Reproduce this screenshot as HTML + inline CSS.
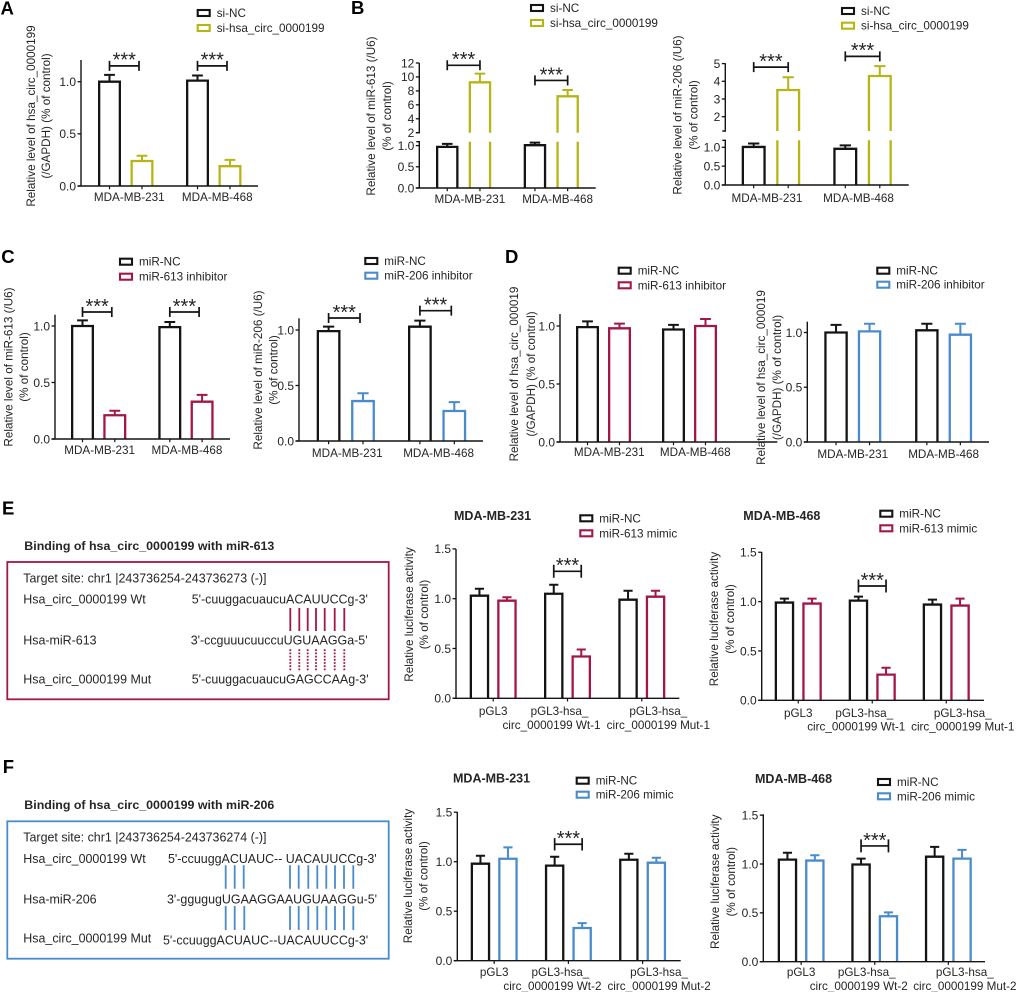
<!DOCTYPE html>
<html lang="en">
<head>
<meta charset="utf-8">
<title>Relative expression and luciferase panels</title>
<style>
html,body{margin:0;padding:0;background:#fff;}
svg{display:block;font-family:"Liberation Sans",Arial,sans-serif;}
text{fill:#252525;}
</style>
</head>
<body>
<svg id="figure" width="1020" height="992" viewBox="0 0 1020 992" xmlns="http://www.w3.org/2000/svg">
  <rect x="0" y="0" width="1020" height="992" fill="#ffffff"/>

  <g font-size="12.45">
    <text x="24.3" y="550" font-size="12.4" font-weight="bold">Binding of hsa_circ_0000199 with miR-613</text>
    <rect x="7.3" y="562" width="381.4" height="137.3" fill="none" stroke="#a3164a" stroke-width="1.8"/>
    <text x="23.3" y="582.4">Target site: chr1 |243736254-243736273 (-)]</text>
    <text x="23.3" y="603.7">Hsa_circ_0000199 Wt</text>
    <text x="191.7" y="603.7">5'-cuuggacuaucuACAUUCCg-3'</text>
    <text x="23.3" y="644.7">Hsa-miR-613</text>
    <text x="190.7" y="644.7">3'-ccguuucuuccuUGUAAGGa-5'</text>
    <text x="23.3" y="683.7">Hsa_circ_0000199 Mut</text>
    <text x="191.7" y="683.7">5'-cuuggacuaucuGAGCCAAg-3'</text>
    <path d="M290.3 608V631M299.3 608V631M307.7 608V631M316 608V631M324.7 608V631M334.7 608V631M344.3 608V631" stroke="#a3164a" stroke-width="1.8" fill="none"/>
    <path d="M290.3 649.3V671.7M299.3 649.3V671.7M307.7 649.3V671.7M316 649.3V671.7M324.7 649.3V671.7M334.7 649.3V671.7M344.3 649.3V671.7" stroke="#a3164a" stroke-width="1.8" stroke-dasharray="1.8 1.4" fill="none"/>
  </g>

  <g font-size="12.45">
    <text x="24.3" y="809" font-size="12.4" font-weight="bold">Binding of hsa_circ_0000199 with miR-206</text>
    <rect x="7.3" y="821.3" width="381.4" height="137.4" fill="none" stroke="#4a8bcb" stroke-width="1.8"/>
    <text x="23.3" y="841.7">Target site: chr1 |243736254-243736274 (-)]</text>
    <text x="23.3" y="863.1">Hsa_circ_0000199 Wt</text>
    <text x="168" y="863.1">5'-ccuuggACUAUC-- UACAUUCCg-3'</text>
    <text x="23.3" y="903.4">Hsa-miR-206</text>
    <text x="167" y="903.4">3'-ggugugUGAAGGAAUGUAAGGu-5'</text>
    <text x="23.3" y="942.7">Hsa_circ_0000199 Mut</text>
    <text x="163" y="944.4">5'-ccuuggACUAUC--UACAUUCCg-3'</text>
    <path d="M225.7 865.3V888.7M234.7 865.3V888.7M243.7 865.3V888.7M290 865.3V888.7M298.7 865.3V888.7M308.3 865.3V888.7M317.3 865.3V888.7M326.3 865.3V888.7M335 865.3V888.7M344 865.3V888.7M353.3 865.3V888.7" stroke="#4a8bcb" stroke-width="1.8" fill="none"/>
    <path d="M225.7 906V930M234.7 906V930M244.3 906V930M290 906V930M298.7 906V930M308.3 906V930M317.3 906V930M326.3 906V930M335 906V930M344 906V930M353.3 906V930" stroke="#4a8bcb" stroke-width="1.8" fill="none"/>
  </g>
</svg>

<script>
/* ---------- shared labels ---------- */
const cellLineCategories = ['MDA-MB-231', 'MDA-MB-468'];
const luciferaseCategories1 = [['pGL3'], ['pGL3-hsa_', 'circ_0000199 Wt-1'], ['pGL3-hsa_', 'circ_0000199 Mut-1']];
const luciferaseCategories2 = [['pGL3'], ['pGL3-hsa_', 'circ_0000199 Wt-2'], ['pGL3-hsa_', 'circ_0000199 Mut-2']];
const unitTicks = [0, 0.5, 1];
const unitTickLabels = ['0.0', '0.5', '1.0'];
const luciferaseTicks = [0, 0.5, 1, 1.5];
const luciferaseTickLabels = ['0.0', '0.5', '1.0', '1.5'];

/* ---------- panel A ---------- */
const aControl = [1.0, 1.01];
const aControlErr = [0.065, 0.05];
const aTreated = [0.24, 0.19];
const aTreatedErr = [0.05, 0.06];
const aSigLevels = [1.152, 1.152];

/* ---------- panel B, miR-613 ---------- */
const b1Control = [0.97, 1.01];
const b1ControlErr = [0.07, 0.06];
const b1Treated = [9.23, 7.22];
const b1TreatedErr = [1.24, 0.91];
const b1SigLevels = [11.67, 9.5];
const b1UpperTicks = [2, 4, 6, 8, 10, 12];
const b1UpperLabels = ['2', '4', '6', '8', '10', '12'];

/* ---------- panel B, miR-206 ---------- */
const b2Control = [1.01, 0.96];
const b2ControlErr = [0.09, 0.09];
const b2Treated = [3.51, 4.3];
const b2TreatedErr = [0.72, 0.56];
const b2SigLevels = [4.8, 5.41];
const b2UpperTicks = [2, 3, 4, 5];
const b2UpperLabels = ['2', '3', '4', '5'];

/* ---------- panel C, miR-613 ---------- */
const c1Control = [1.0, 0.99];
const c1ControlErr = [0.05, 0.045];
const c1Treated = [0.21, 0.33];
const c1TreatedErr = [0.04, 0.06];
const c1SigLevels = [1.124, 1.124];

/* ---------- panel C, miR-206 ---------- */
const c2Control = [0.99, 1.03];
const c2ControlErr = [0.04, 0.055];
const c2Treated = [0.36, 0.27];
const c2TreatedErr = [0.07, 0.08];
const c2SigLevels = [1.108, 1.174];

/* ---------- panel D, miR-613 ---------- */
const d1Control = [0.99, 0.97];
const d1ControlErr = [0.05, 0.04];
const d1Treated = [0.98, 1.0];
const d1TreatedErr = [0.04, 0.06];

/* ---------- panel D, miR-206 ---------- */
const d2Control = [1.0, 1.02];
const d2ControlErr = [0.07, 0.06];
const d2Treated = [1.01, 0.98];
const d2TreatedErr = [0.07, 0.1];

/* ---------- panel E, MDA-MB-231 ---------- */
const e1Control = [1.03, 1.05, 0.99];
const e1ControlErr = [0.07, 0.09, 0.09];
const e1Treated = [0.98, 0.42, 1.02];
const e1TreatedErr = [0.035, 0.07, 0.06];
const e1SigLevels = [null, 1.275, null];

/* ---------- panel E, MDA-MB-468 ---------- */
const e2Control = [0.99, 1.01, 0.97];
const e2ControlErr = [0.04, 0.04, 0.05];
const e2Treated = [0.98, 0.26, 0.96];
const e2TreatedErr = [0.05, 0.07, 0.07];
const e2SigLevels = [null, 1.158, null];

/* ---------- panel F, MDA-MB-231 ---------- */
const f1Control = [0.98, 0.96, 1.02];
const f1ControlErr = [0.08, 0.09, 0.06];
const f1Treated = [1.03, 0.33, 0.99];
const f1TreatedErr = [0.115, 0.05, 0.05];
const f1SigLevels = [null, 1.176, null];

/* ---------- panel F, MDA-MB-468 ---------- */
const f2Control = [1.045, 0.995, 1.075];
const f2ControlErr = [0.07, 0.06, 0.1];
const f2Treated = [1.035, 0.465, 1.055];
const f2TreatedErr = [0.055, 0.04, 0.09];
const f2SigLevels = [null, 1.185, null];

/* ---------- colours ---------- */
const INK = '#141414';
const GOLD = '#b5b616';
const CRIMSON = '#a3164a';
const BLUE = '#4a8bcb';
const NS = 'http://www.w3.org/2000/svg';
const figure = document.getElementById('figure');

function make(parent, tag, props, content) {
  const el = document.createElementNS(NS, tag);
  for (const k in props) el.setAttribute(k, props[k]);
  if (content !== undefined) el.textContent = content;
  parent.appendChild(el);
  return el;
}

/* Linear value axis, optionally split in two segments */
function yScale(p, v) {
  if (p.upper && v > p.lowerMax) {
    return p.upper.refPx - (v - p.upper.refVal) * p.upper.pxPerUnit;
  }
  return p.base - v * p.pxPerUnit;
}
function xBar(p, group, series) {
  return p.barStart + group * p.groupStep + series * p.seriesStep;
}
function xBarCenter(p, group, series) {
  return xBar(p, group, series) + p.barWidth / 2;
}
function xGroupCenter(p, group) {
  return (xBar(p, group, 0) + xBar(p, group, 1) + p.barWidth) / 2;
}
/* Two-line luciferase labels sit off their tick in the original layout */
function luciferaseLabelShift(group, line) {
  if (group === 1) return line === 0 ? -8 : -16;
  if (group === 2) return 16.5;
  return 0;
}

function drawBar(g, p, group, series, value, err, color) {
  const sw = 2.3;
  const left = xBar(p, group, series) + sw / 2;
  const right = xBar(p, group, series) + p.barWidth - sw / 2;
  const top = yScale(p, value);
  let d;
  if (p.upper && value > p.lowerMax) {
    d = 'M' + left + ' ' + p.base + 'V' + p.lowerTop +
        'M' + left + ' ' + p.upper.bottom + 'V' + top + 'H' + right + 'V' + p.upper.bottom +
        'M' + right + ' ' + p.lowerTop + 'V' + p.base;
  } else {
    d = 'M' + left + ' ' + p.base + 'V' + top + 'H' + right + 'V' + p.base;
  }
  const bar = make(g, 'path', {d: d, fill: 'none', stroke: color, 'stroke-width': sw});
  
  

  const cx = (left + right) / 2;
  const errTop = yScale(p, value + err);
  const cap = p.barWidth * 0.235;
  const whisker = make(g, 'path', {
    d: 'M' + cx + ' ' + top + 'V' + errTop + 'M' + (cx - cap) + ' ' + errTop + 'H' + (cx + cap),
    fill: 'none', stroke: color, 'stroke-width': 2
  });
  
  
}

function drawAxes(g, p) {
  let axis;
  if (p.upper) {
    axis = 'M' + p.axisX + ' ' + p.top + 'V' + p.upper.bottom + 'H' + (p.axisX - 3) +
           'M' + (p.axisX - 3) + ' ' + p.lowerTop + 'H' + p.axisX + 'V' + p.base;
  } else {
    axis = 'M' + p.axisX + ' ' + p.top + 'V' + p.base;
  }
  const yAxis = make(g, 'path', {d: axis, fill: 'none', stroke: INK, 'stroke-width': 1.4});
  
  

  const xAxis = make(g, 'path', {d: 'M' + (p.axisX - 3.5) + ' ' + p.base + 'H' + p.axisEnd, fill: 'none', stroke: INK, 'stroke-width': 1.4});
  
  

  const tickValues = p.ticks.concat(p.upperTicks || []);
  const tickLabels = p.tickLabels.concat(p.upperLabels || []);
  tickValues.forEach(function (v, i) {
    const y = yScale(p, v);
    const tick = make(g, 'path', {d: 'M' + (p.axisX - 3.5) + ' ' + y + 'H' + p.axisX, stroke: INK, 'stroke-width': 1.3});
    
    
    const label = make(g, 'text', {x: p.axisX - 5, y: y + 4.3, 'text-anchor': 'end', 'font-size': 12}, tickLabels[i]);
    
    
  });

  p.categories.forEach(function (cat, i) {
    const positions = p.ticksPerBar ? [xBarCenter(p, i, 0), xBarCenter(p, i, 1)] : [xGroupCenter(p, i)];
    positions.forEach(function (tx) {
      const tick = make(g, 'path', {d: 'M' + tx + ' ' + p.base + 'v3.2', stroke: INK, 'stroke-width': 1.2});
      
      
    });
    if (Array.isArray(cat)) {
      const cx = xGroupCenter(p, i);
      cat.forEach(function (line, j) {
        const label = make(g, 'text', {
          x: cx + luciferaseLabelShift(i, j), y: p.catY + j * 13.7 + 4.2,
          'text-anchor': 'middle', 'font-size': 11.7
        }, line);
        
        
      });
    } else {
      const label = make(g, 'text', {x: xGroupCenter(p, i) + p.catDx, y: p.catY + 4.2, 'text-anchor': 'middle', 'font-size': 11.7}, cat);
      
      
    }
  });

  p.yTitle.forEach(function (line, i) {
    const x = p.yTitleX + i * p.yTitleGap + 4.2;
    const title = make(g, 'text', {
      x: x, y: p.yTitleY, 'text-anchor': 'middle', 'font-size': 11.7,
      transform: 'rotate(-90 ' + x + ' ' + p.yTitleY + ')'
    }, line);
    
    
  });
}

function drawBracket(g, p, group, level) {
  const x1 = xBarCenter(p, group, 0);
  const x2 = xBarCenter(p, group, 1) + (p.bracketDx || 0);
  const y = yScale(p, level);
  const h = p.bracketCap;
  const br = make(g, 'path', {
    d: 'M' + x1 + ' ' + (y - h) + 'V' + (y + h) + 'M' + x1 + ' ' + y + 'H' + x2 + 'M' + x2 + ' ' + (y - h) + 'V' + (y + h),
    fill: 'none', stroke: INK, 'stroke-width': 1.7
  });
  
  
  const stars = make(g, 'text', {x: (x1 + x2) / 2, y: y + 0.9, 'text-anchor': 'middle', 'font-size': 20}, '***');
  
  
}

function drawLegend(g, p) {
  const ys = [p.legendY1, p.legendY2];
  const colors = [INK, p.color];
  p.legend.forEach(function (name, i) {
    const swatch = make(g, 'rect', {x: p.legendX + 1, y: ys[i] - 3, width: 12, height: 6, fill: 'none', stroke: colors[i], 'stroke-width': 2.1});
    
    
    const label = make(g, 'text', {x: p.legendX + 20, y: ys[i] + 4, 'font-size': 11.7}, name);
    
    
  });
}

function drawPanel(name, p) {
  const g = make(figure, 'g', {});
  
  
  p.categories.forEach(function (_, i) {
    drawBar(g, p, i, 0, p.control[i], p.controlErr[i], INK);
    drawBar(g, p, i, 1, p.treated[i], p.treatedErr[i], p.color);
  });
  drawAxes(g, p);
  (p.sig || []).forEach(function (level, i) {
    if (level !== null) drawBracket(g, p, i, level);
  });
  drawLegend(g, p);
  if (p.title) {
    const t = make(g, 'text', {x: p.title.x, y: p.title.y + 4.4, 'font-size': 12.5, 'font-weight': 'bold'}, p.title.text);
    
    
  }
}

drawPanel('panel-a-chart', {
  categories: cellLineCategories, control: aControl, controlErr: aControlErr, treated: aTreated, treatedErr: aTreatedErr,
  sig: aSigLevels, ticks: unitTicks, tickLabels: unitTickLabels, color: GOLD,
  axisX: 81, top: 60, base: 186, pxPerUnit: 104.3, axisEnd: 258,
  barStart: 98, groupStep: 88, seriesStep: 32.5, barWidth: 23, ticksPerBar: true, bracketDx: -3, bracketCap: 5,
  catY: 196.7, catDx: 3.5,
  yTitle: ['Relative level of hsa_circ_0000199', '(/GAPDH) (% of control)'], yTitleX: 31, yTitleGap: 15, yTitleY: 116,
  legend: ['si-NC', 'si-hsa_circ_0000199'], legendX: 196.7, legendY1: 13, legendY2: 28
});

drawPanel('panel-b-mir-613-chart', {
  categories: cellLineCategories, control: b1Control, controlErr: b1ControlErr, treated: b1Treated, treatedErr: b1TreatedErr,
  sig: b1SigLevels, ticks: unitTicks, tickLabels: unitTickLabels, upperTicks: b1UpperTicks, upperLabels: b1UpperLabels, color: GOLD,
  axisX: 419.3, top: 63, base: 188, pxPerUnit: 42.4, axisEnd: 595.7, lowerMax: 1.5, lowerTop: 141.7,
  upper: {bottom: 132.7, refVal: 2, refPx: 132.7, pxPerUnit: 6.97},
  barStart: 436, groupStep: 87.7, seriesStep: 32.7, barWidth: 22.5, ticksPerBar: true, bracketCap: 5,
  catY: 198.7, catDx: 6.3,
  yTitle: ['Relative level of miR-613 (/U6)', '(% of control)'], yTitleX: 371, yTitleGap: 15.7, yTitleY: 116,
  legend: ['si-NC', 'si-hsa_circ_0000199'], legendX: 530, legendY1: 8, legendY2: 23
});

drawPanel('panel-b-mir-206-chart', {
  categories: cellLineCategories, control: b2Control, controlErr: b2ControlErr, treated: b2Treated, treatedErr: b2TreatedErr,
  sig: b2SigLevels, ticks: unitTicks, tickLabels: unitTickLabels, upperTicks: b2UpperTicks, upperLabels: b2UpperLabels, color: GOLD,
  axisX: 725.3, top: 63.3, base: 185, pxPerUnit: 37.7, axisEnd: 908.7, lowerMax: 1.5, lowerTop: 140.3,
  upper: {bottom: 131, refVal: 2, refPx: 116.7, pxPerUnit: 17.7},
  barStart: 741.7, groupStep: 91.6, seriesStep: 34.5, barWidth: 24, ticksPerBar: true, bracketCap: 5,
  catY: 198, catDx: -4,
  yTitle: ['Relative level of miR-206 (/U6)', '(% of control)'], yTitleX: 677.3, yTitleGap: 16, yTitleY: 115,
  legend: ['si-NC', 'si-hsa_circ_0000199'], legendX: 841, legendY1: 11, legendY2: 25.7
});

drawPanel('panel-c-mir-613-chart', {
  categories: cellLineCategories, control: c1Control, controlErr: c1ControlErr, treated: c1Treated, treatedErr: c1TreatedErr,
  sig: c1SigLevels, ticks: unitTicks, tickLabels: unitTickLabels, color: CRIMSON,
  axisX: 55, top: 314.7, base: 439, pxPerUnit: 113, axisEnd: 230,
  barStart: 71, groupStep: 87.3, seriesStep: 32.3, barWidth: 23, ticksPerBar: true, bracketDx: -3, bracketCap: 5,
  catY: 450, catDx: 1,
  yTitle: ['Relative level of miR-613 (/U6)', '(% of control)'], yTitleX: 8.3, yTitleGap: 15.7, yTitleY: 367,
  legend: ['miR-NC', 'miR-613 inhibitor'], legendX: 119, legendY1: 261.7, legendY2: 276.7
});

drawPanel('panel-c-mir-206-chart', {
  categories: cellLineCategories, control: c2Control, controlErr: c2ControlErr, treated: c2Treated, treatedErr: c2TreatedErr,
  sig: c2SigLevels, ticks: unitTicks, tickLabels: unitTickLabels, color: BLUE,
  axisX: 299, top: 318.3, base: 441, pxPerUnit: 111, axisEnd: 483,
  barStart: 316.7, groupStep: 91.3, seriesStep: 34.4, barWidth: 23.8, ticksPerBar: true, bracketDx: -3, bracketCap: 5,
  catY: 453, catDx: 1.5,
  yTitle: ['Relative level of miR-206 (/U6)', '(% of control)'], yTitleX: 257.7, yTitleGap: 15.6, yTitleY: 370,
  legend: ['miR-NC', 'miR-206 inhibitor'], legendX: 364.3, legendY1: 261, legendY2: 275.7
});

drawPanel('panel-d-mir-613-chart', {
  categories: cellLineCategories, control: d1Control, controlErr: d1ControlErr, treated: d1Treated, treatedErr: d1TreatedErr,
  ticks: unitTicks, tickLabels: unitTickLabels, color: CRIMSON,
  axisX: 560, top: 314, base: 442, pxPerUnit: 116, axisEnd: 777.3,
  barStart: 576, groupStep: 86, seriesStep: 32, barWidth: 23, ticksPerBar: true,
  catY: 452, catDx: 5.8,
  yTitle: ['Relative level of hsa_circ_000019', '(/GAPDH) (% of control)'], yTitleX: 514, yTitleGap: 17, yTitleY: 374,
  legend: ['miR-NC', 'miR-613 inhibitor'], legendX: 617.7, legendY1: 270.7, legendY2: 285.3
});

drawPanel('panel-d-mir-206-chart', {
  categories: cellLineCategories, control: d2Control, controlErr: d2ControlErr, treated: d2Treated, treatedErr: d2TreatedErr,
  ticks: unitTicks, tickLabels: unitTickLabels, color: BLUE,
  axisX: 807.3, top: 321.7, base: 442, pxPerUnit: 109.5, axisEnd: 989,
  barStart: 824.3, groupStep: 90.8, seriesStep: 33.5, barWidth: 23.5, ticksPerBar: true,
  catY: 454, catDx: 0,
  yTitle: ['Relative level of hsa_circ_000019', '(/GAPDH) (% of control)'], yTitleX: 760.7, yTitleGap: 16, yTitleY: 377.5,
  legend: ['miR-NC', 'miR-206 inhibitor'], legendX: 876.3, legendY1: 270.7, legendY2: 284.7
});

const luciferaseTitle = ['Relative luciferase activity', '(% of control)'];

drawPanel('panel-e-mda-mb-231-chart', {
  categories: luciferaseCategories1, control: e1Control, controlErr: e1ControlErr, treated: e1Treated, treatedErr: e1TreatedErr,
  sig: e1SigLevels, ticks: luciferaseTicks, tickLabels: luciferaseTickLabels, color: CRIMSON,
  axisX: 456, top: 549, base: 698.3, pxPerUnit: 99.6, axisEnd: 679.3,
  barStart: 469.7, groupStep: 74.3, seriesStep: 27.5, barWidth: 19.5, bracketCap: 6.5,
  catY: 711,
  yTitle: luciferaseTitle, yTitleX: 409, yTitleGap: 15, yTitleY: 614.5,
  title: {text: 'MDA-MB-231', x: 454, y: 515.7},
  legend: ['miR-NC', 'miR-613 mimic'], legendX: 579.3, legendY1: 518.3, legendY2: 533.3
});

drawPanel('panel-e-mda-mb-468-chart', {
  categories: luciferaseCategories1, control: e2Control, controlErr: e2ControlErr, treated: e2Treated, treatedErr: e2TreatedErr,
  sig: e2SigLevels, ticks: luciferaseTicks, tickLabels: luciferaseTickLabels, color: CRIMSON,
  axisX: 761.7, top: 552, base: 700.3, pxPerUnit: 98.7, axisEnd: 984,
  barStart: 774.7, groupStep: 74, seriesStep: 27.6, barWidth: 19.5, bracketCap: 6.5,
  catY: 712.7,
  yTitle: luciferaseTitle, yTitleX: 713.7, yTitleGap: 16.3, yTitleY: 619,
  title: {text: 'MDA-MB-468', x: 743.3, y: 515.7},
  legend: ['miR-NC', 'miR-613 mimic'], legendX: 879.3, legendY1: 513.7, legendY2: 528.3
});

drawPanel('panel-f-mda-mb-231-chart', {
  categories: luciferaseCategories2, control: f1Control, controlErr: f1ControlErr, treated: f1Treated, treatedErr: f1TreatedErr,
  sig: f1SigLevels, ticks: luciferaseTicks, tickLabels: luciferaseTickLabels, color: BLUE,
  axisX: 457.3, top: 812, base: 960.7, pxPerUnit: 99, axisEnd: 680.7,
  barStart: 470.7, groupStep: 74.2, seriesStep: 27.5, barWidth: 19.5, bracketCap: 6.2,
  catY: 972,
  yTitle: luciferaseTitle, yTitleX: 408, yTitleGap: 15.3, yTitleY: 876,
  title: {text: 'MDA-MB-231', x: 453, y: 778},
  legend: ['miR-NC', 'miR-206 mimic'], legendX: 575.7, legendY1: 780.7, legendY2: 794.7
});

drawPanel('panel-f-mda-mb-468-chart', {
  categories: luciferaseCategories2, control: f2Control, controlErr: f2ControlErr, treated: f2Treated, treatedErr: f2TreatedErr,
  sig: f2SigLevels, ticks: luciferaseTicks, tickLabels: luciferaseTickLabels, color: BLUE,
  axisX: 763.3, top: 814.3, base: 961.7, pxPerUnit: 97.7, axisEnd: 985,
  barStart: 777.7, groupStep: 73.6, seriesStep: 27.4, barWidth: 19.5, bracketCap: 6.5,
  catY: 972,
  yTitle: luciferaseTitle, yTitleX: 714.7, yTitleGap: 16, yTitleY: 881.7,
  title: {text: 'MDA-MB-468', x: 755, y: 778.7},
  legend: ['miR-NC', 'miR-206 mimic'], legendX: 877, legendY1: 782, legendY2: 796.3
});

/* Panel letters */
const panelLetters = ['A', 'B', 'C', 'D', 'E', 'F'];
const letterLayout = {A: [0.5, 14.5], B: [351, 14], C: [1.3, 263], D: [505, 263], E: [2, 514.7], F: [2.7, 773]};
panelLetters.forEach(function (letter) {
  const t = make(figure, 'text', {x: letterLayout[letter][0], y: letterLayout[letter][1], 'font-size': 18.5, 'font-weight': 'bold', style: 'fill:#000'}, letter);
  
  
});
</script>
</body>
</html>
